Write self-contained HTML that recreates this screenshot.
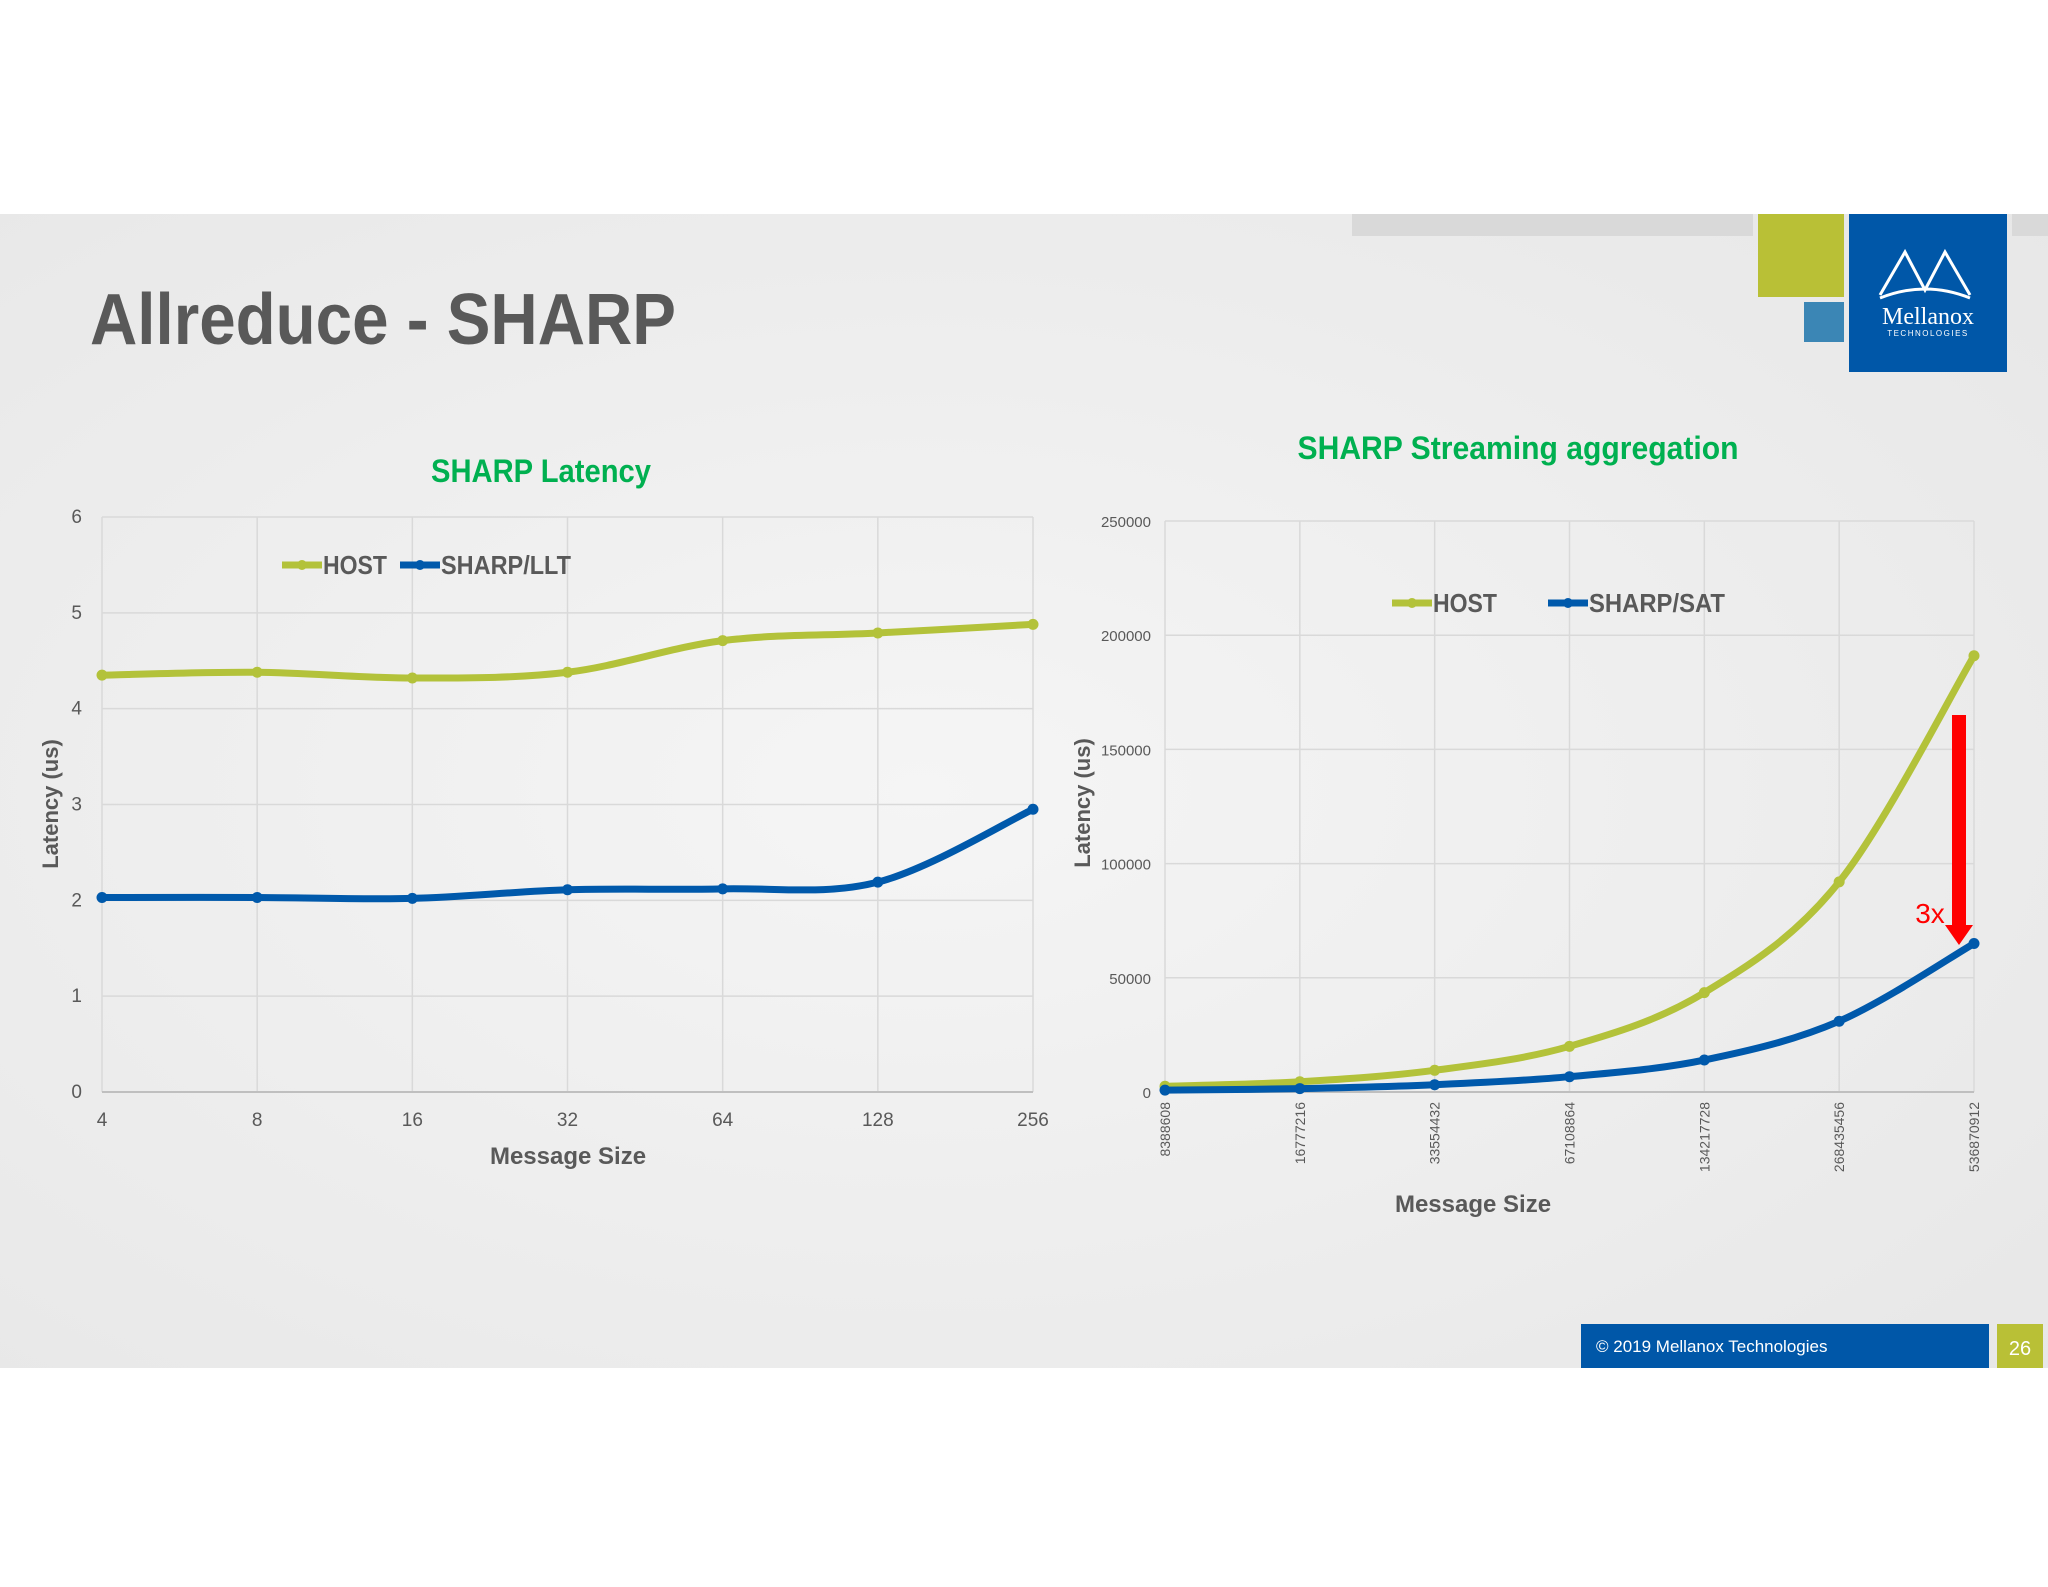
<!DOCTYPE html>
<html><head><meta charset="utf-8">
<style>
html,body{margin:0;padding:0;background:#fff;}
body{width:2048px;height:1582px;overflow:hidden;font-family:"Liberation Sans",sans-serif;}
svg text{font-family:"Liberation Sans","DejaVu Sans",sans-serif;}
</style></head>
<body>
<svg id="s" width="2048" height="1582" viewBox="0 0 2048 1582" xmlns="http://www.w3.org/2000/svg">
<defs>
<radialGradient id="bg" cx="0.45" cy="0.5" r="0.8">
<stop offset="0" stop-color="#f5f5f5"/><stop offset="1" stop-color="#e6e6e6"/>
</radialGradient>
</defs>
<rect x="0" y="214" width="2048" height="1154" fill="url(#bg)"/>
<rect x="1352" y="214" width="401" height="22" fill="#d9d9d9"/>
<rect x="2012" y="214" width="36" height="22" fill="#d9d9d9"/>
<rect x="1758" y="214" width="86" height="83" fill="#b9c036"/>
<rect x="1804" y="302" width="40" height="40" fill="#3b86b5"/>
<g>
<rect x="1849" y="214" width="158" height="158" fill="#0057a8"/>
<path d="M1880 295 L1905 252 L1925 290 L1945 252 L1970 295 M1880 298 Q1925 280 1970 298" stroke="#fff" stroke-width="3" fill="none"/>
<text x="1928" y="324" font-size="24" fill="#fff" text-anchor="middle" style="font-family:'Liberation Serif',serif">Mellanox</text>
<text x="1928" y="336" font-size="8" fill="#fff" text-anchor="middle" letter-spacing="1.5">TECHNOLOGIES</text>
</g>
<text x="90" y="344" font-size="72" font-weight="bold" fill="#595959" textLength="586" lengthAdjust="spacingAndGlyphs">Allreduce - SHARP</text>
<rect x="1581" y="1324" width="408" height="44" fill="#0057a8"/>
<text x="1596" y="1352" font-size="17" fill="#fff">© 2019 Mellanox Technologies</text>
<rect x="1997" y="1324" width="46" height="44" fill="#b9c036"/>
<text x="2020" y="1355" font-size="20" fill="#fff" text-anchor="middle">26</text>
<g id="c1"></g>
<g id="c2"></g>
</svg>
<script>
// Left chart data
const cats1 = ["4","8","16","32","64","128","256"];
const host1 = [4.35,4.38,4.32,4.38,4.71,4.79,4.88];
const llt1 = [2.03,2.03,2.02,2.11,2.12,2.19,2.95];
const yTicks1 = [0,1,2,3,4,5,6];
// Right chart data
const cats2 = ["8388608","16777216","33554432","67108864","134217728","268435456","536870912"];
const host2 = [2500,4500,9500,20000,43500,92000,191000];
const sat2 = [800,1500,3200,6700,14000,31000,65000];
const yTicks2 = [0,50000,100000,150000,200000,250000];

const NS="http://www.w3.org/2000/svg";
function mk(parent,tag,attrs,txt){const e=document.createElementNS(NS,tag);for(const k in attrs)e.setAttribute(k,attrs[k]);if(txt!==undefined)e.textContent=txt;parent.appendChild(e);return e;}
function smooth(pts){let d="M"+pts[0][0]+" "+pts[0][1];for(let i=0;i<pts.length-1;i++){const p0=pts[i-1]||pts[i],p1=pts[i],p2=pts[i+1],p3=pts[i+2]||p2;const t=6;d+=" C"+(p1[0]+(p2[0]-p0[0])/t)+" "+(p1[1]+(p2[1]-p0[1])/t)+" "+(p2[0]-(p3[0]-p1[0])/t)+" "+(p2[1]-(p3[1]-p1[1])/t)+" "+p2[0]+" "+p2[1];}return d;}

function chart(g,o){
  const xs=i=>o.L+(o.R-o.L)*i/(o.cats.length-1);
  const ys=v=>o.B-(o.B-o.T)*v/o.max;
  o.yTicks.forEach(t=>{
    const l=mk(g,'line',{x1:o.L,x2:o.R,y1:ys(t),y2:ys(t),stroke:'#d9d9d9','stroke-width':1.5});
    
    
    const tx=mk(g,'text',{x:o.L-o.yLabOff,y:ys(t)+6,'font-size':o.yFont,fill:'#595959','text-anchor':'end'},t);
    
    
  });
  o.cats.forEach((c,i)=>{
    const l=mk(g,'line',{x1:xs(i),x2:xs(i),y1:o.T,y2:o.B,stroke:'#d9d9d9','stroke-width':1.5});
    
    
    let tx;
    if(o.rot){tx=mk(g,'text',{x:0,y:0,'font-size':14,fill:'#595959','text-anchor':'end',transform:`translate(${xs(i)+5},${o.B+10}) rotate(-90)`},c);}
    else{tx=mk(g,'text',{x:xs(i),y:o.B+34,'font-size':19,fill:'#595959','text-anchor':'middle'},c);}
    
    
  });
  const ax=mk(g,'line',{x1:o.L,x2:o.R,y1:o.B,y2:o.B,stroke:'#bfbfbf','stroke-width':2});
  
  
  o.series.forEach(s=>{
    const pts=s.vals.map((v,i)=>[xs(i),ys(v)]);
    const p=mk(g,'path',{d:smooth(pts),fill:'none',stroke:s.color,'stroke-width':7,'stroke-linecap':'round'});
    
    
    pts.forEach(pt=>{
      const c=mk(g,'circle',{cx:pt[0],cy:pt[1],r:5.5,fill:s.color});
      
      
    });
  });
  const t=mk(g,'text',{x:o.titleX,y:o.titleY,'font-size':32,'font-weight':'bold',fill:'#00b050','text-anchor':'middle',textLength:o.titleW,lengthAdjust:'spacingAndGlyphs'},o.title);
  
  
  const xl=mk(g,'text',{x:o.xlX,y:o.xlY,'font-size':24,'font-weight':'bold',fill:'#595959','text-anchor':'middle'},'Message Size');
  
  
  const yl=mk(g,'text',{x:0,y:0,'font-size':22,'font-weight':'bold',fill:'#595959','text-anchor':'middle',transform:`translate(${o.ylX},${o.ylY}) rotate(-90)`},'Latency (us)');
  
  
  o.legend.forEach(e=>{
    const l=mk(g,'line',{x1:e.x,x2:e.x+40,y1:o.legY,y2:o.legY,stroke:e.color,'stroke-width':7});
    
    
    mk(g,'circle',{cx:e.x+20,cy:o.legY,r:5,fill:e.color});
    const tx=mk(g,'text',{x:e.x+41,y:o.legY+9,'font-size':26,'font-weight':'bold',fill:'#595959',textLength:e.w,lengthAdjust:'spacingAndGlyphs'},e.label);
    
    
  });
}
const G='#b3c23a',B='#0059ab';
chart(document.getElementById('c1'),{L:102,R:1033,T:517,B:1092,max:6,cats:cats1,yTicks:yTicks1,yLabOff:20,yFont:19,rot:false,
 series:[{name:'host',vals:host1,color:G},{name:'sharp-llt',vals:llt1,color:B}],
 title:'SHARP Latency',titleW:220,titleX:541,titleY:482,xlX:568,xlY:1164,ylX:58,ylY:804,legY:565,
 legend:[{x:282,label:'HOST',color:G,w:64},{x:400,label:'SHARP/LLT',color:B,w:130}]});
chart(document.getElementById('c2'),{L:1165,R:1974,T:521,B:1092,max:250000,cats:cats2,yTicks:yTicks2,yLabOff:14,yFont:15,rot:true,
 series:[{name:'host',vals:host2,color:G},{name:'sharp-sat',vals:sat2,color:B}],
 title:'SHARP Streaming aggregation',titleW:441,titleX:1518,titleY:459,xlX:1473,xlY:1212,ylX:1090,ylY:803,legY:603,
 legend:[{x:1392,label:'HOST',color:G,w:64},{x:1548,label:'SHARP/SAT',color:B,w:136}]});
// annotation
const s=document.getElementById('s');
const ar=mk(s,'path',{d:'M1952 715 L1966 715 L1966 925 L1973 925 L1959 945 L1945 925 L1952 925 Z',fill:'#ff0000'});


const at=mk(s,'text',{x:1930,y:923,'font-size':28,fill:'#ff0000','text-anchor':'middle'},'3x');


</script>
</body></html>
